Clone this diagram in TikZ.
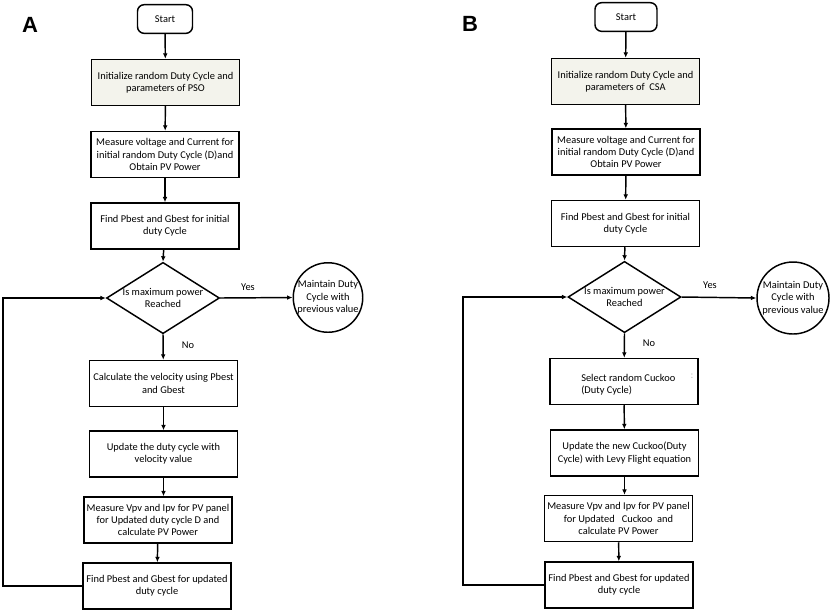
\documentclass[tikz,border=0pt]{standalone}
\usepackage{fontspec}
\setmainfont{Carlito}
\newfontfamily\labelfont{Liberation Sans}
\usetikzlibrary{shapes.geometric,arrows.meta}
\definecolor{initfill}{HTML}{F3F3EC}
\tikzset{
  base/.style={draw=black, line width=1.1pt, inner sep=0pt, align=center,
    font=\fontsize{7.8}{9.2}\selectfont},
  procbox/.style={base, rectangle, minimum width=111pt, minimum height=34.5pt},
  initbox/.style={procbox, fill=initfill},
  startbox/.style={base, rectangle, rounded corners=5pt, minimum height=21.5pt},
  decision/.style={base, diamond, minimum width=84.75pt, minimum height=53.5pt},
  endcircle/.style={base, circle},
  txt/.style={inner sep=0pt, align=center, font=\fontsize{7.8}{9.2}\selectfont},
  flow/.style={line width=1.1pt, -{Latex[length=4pt,width=3.5pt]}},
  panel/.style={font=\labelfont\bfseries\fontsize{16.5}{18}\selectfont, inner sep=0pt}
}
\begin{document}
\begin{tikzpicture}[x=0.75pt,y=-0.75pt]
\useasboundingbox (0,0) rectangle (830,612);
% ---------------- Panel A ----------------
\node[panel] (labA) at (30,25) {A};
\node[startbox, minimum width=41.25pt] (startA) at (165,19) {Start};
\node[initbox] (initA) at (165.5,82.5) {Initialize random Duty Cycle and\\parameters of PSO};
\node[procbox] (measA) at (165,154.5) {Measure voltage and Current for\\initial random Duty Cycle (D)and\\Obtain PV Power};
\node[procbox] (findA) at (165,226) {Find Pbest and Gbest for initial\\duty Cycle};
\node[decision] (decA) at (163,298) {};
\node[txt] (decAt) at (163,298) {Is maximum power\\Reached};
\node[endcircle, minimum size=51.75pt] (circA) at (328,297.5) {Maintain Duty\\Cycle with\\previous value};
\node[procbox] (calcA) at (163.5,383.5) {Calculate the velocity using Pbest\\and Gbest};
\node[procbox] (updA) at (163.5,454) {Update the duty cycle with\\velocity value};
\node[procbox] (vpvA) at (158,520) {Measure Vpv and Ipv for PV panel\\for Updated duty cycle D and\\calculate PV Power};
\node[procbox] (fupA) at (157,586) {Find Pbest and Gbest for updated\\duty cycle};
\node[txt] (yesA) at (248,287) {Yes};
\node[txt] (noA) at (188,345) {No};
\coordinate (loopA1) at (3,586);
\coordinate (loopA2) at (3,298);
\draw[flow] (startA) -- (initA);
\draw[flow] (initA) -- (measA);
\draw[flow] (measA) -- (findA);
\draw[flow] (findA) -- (decA.north);
\draw[flow] (decA.east) -- (circA.west);
\draw[flow] (decA.south) -- (calcA);
\draw[flow] (calcA) -- (updA);
\draw[flow] (updA) -- (vpvA.north -| updA);
\draw[flow] (vpvA) -- (fupA);
\draw[flow] (fupA.west) -- (loopA1) -- (loopA2) -- (decA.west);
% ---------------- Panel B ----------------
\node[panel] (labB) at (470,24) {B};
\node[startbox, minimum width=46.5pt] (startB) at (626,17) {Start};
\node[initbox] (initB) at (625.5,81.5) {Initialize random Duty Cycle and\\parameters of \ CSA};
\node[procbox] (measB) at (626,152) {Measure voltage and Current for\\initial random Duty Cycle (D)and\\Obtain PV Power};
\node[procbox] (findB) at (625.5,223.5) {Find Pbest and Gbest for initial\\duty Cycle};
\node[decision] (decB) at (624.5,297) {};
\node[txt] (decBt) at (624.5,297) {Is maximum power\\Reached};
\node[endcircle, minimum size=54pt] (circB) at (793,298) {Maintain Duty\\Cycle with\\previous value};
\node[procbox] (selB) at (624,381.5) {};
\node[txt, anchor=west, align=left] (selBt) at (581,385) {Select random Cuckoo\\(Duty Cycle)};
\node[txt, text=black!25] (selBm) at (692,376) {:};
\node[procbox] (updB) at (624.5,453) {Update the new Cuckoo(Duty\\Cycle) with Levy Flight equation};
\node[procbox] (vpvB) at (618.5,518.5) {Measure Vpv and Ipv for PV panel\\for Updated \ \ Cuckoo \ and\\calculate PV Power};
\node[procbox] (fupB) at (619,585) {Find Pbest and Gbest for updated\\duty cycle};
\node[txt] (yesB) at (710,285) {Yes};
\node[txt] (noB) at (649,343) {No};
\coordinate (loopB1) at (463,585);
\coordinate (loopB2) at (463,297);
\draw[flow] (startB) -- (initB);
\draw[flow] (initB) -- (measB);
\draw[flow] (measB) -- (findB);
\draw[flow] (findB) -- (decB.north);
\draw[flow] (decB.east) -- (circB.west);
\draw[flow] (decB.south) -- (selB);
\draw[flow] (selB) -- (updB);
\draw[flow] (updB) -- (vpvB.north -| updB);
\draw[flow] (vpvB) -- (fupB);
\draw[flow] (fupB.west) -- (loopB1) -- (loopB2) -- (decB.west);
\end{tikzpicture}
\end{document}
